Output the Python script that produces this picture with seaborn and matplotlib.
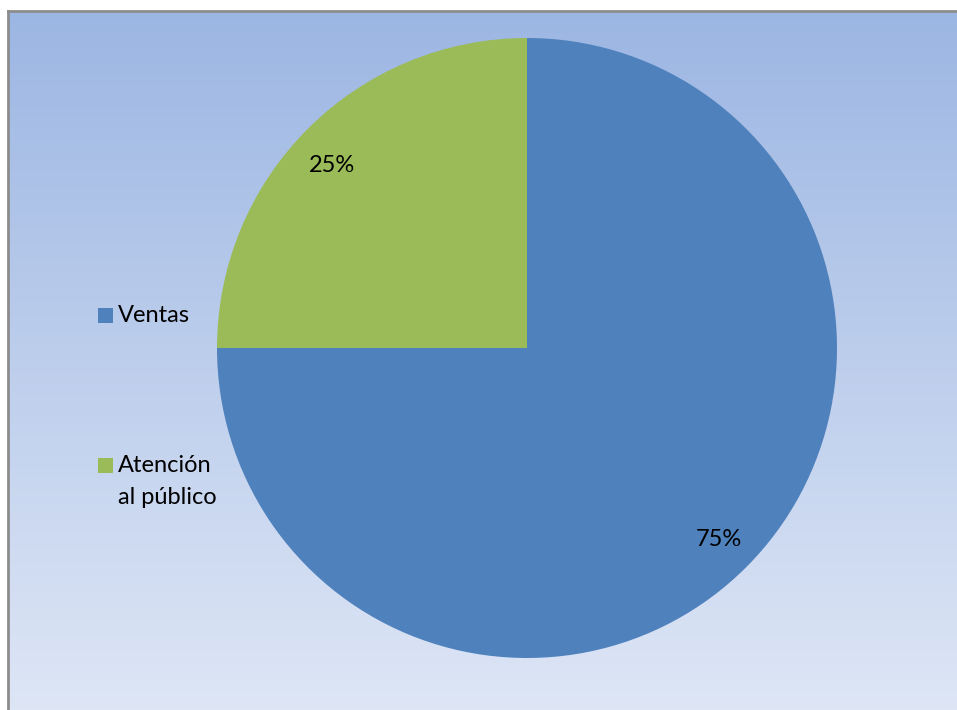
import numpy as np
import matplotlib
matplotlib.use("Agg")
import matplotlib.pyplot as plt
from matplotlib.patches import Rectangle
from matplotlib.colors import LinearSegmentedColormap
import seaborn as sns

categories = ["Ventas", "Atención\nal público"]
values = [75, 25]
colors = ["#4F81BD", "#9BBB59"]

sns.set_style("white")
plt.rcParams['font.family'] = ['Lato', 'DejaVu Sans']

W, H = 957, 710
fig = plt.figure(figsize=(W / 100, H / 100), dpi=100)
fig.patch.set_facecolor("white")

# gradient background panel
bg = fig.add_axes([8 / W, -0.02, 1 - 8 / W + 0.02, 1 - 11 / H + 0.02])
cmap = LinearSegmentedColormap.from_list("bg", ["#9CB6E3", "#DFE7F6"])
grad = np.linspace(0, 1, 256).reshape(-1, 1)
bg.imshow(grad, aspect="auto", cmap=cmap, extent=[0, 1, 0, 1], origin="upper")
bg.set_xticks([]); bg.set_yticks([])
for s in ["right", "bottom"]:
    bg.spines[s].set_visible(False)
for s in ["left", "top"]:
    bg.spines[s].set_color("#8C8C8C")
    bg.spines[s].set_linewidth(2)

# pie
cx, cy, r = 527, 348, 310
ax = fig.add_axes([(cx - r) / W, (H - cy - r) / H, 2 * r / W, 2 * r / H])
ax.set_facecolor("none")
wedges, texts, autotexts = ax.pie(values, colors=colors, startangle=90, counterclock=False,
                                  autopct="%d%%", pctdistance=0.875, radius=1,
                                  wedgeprops=dict(linewidth=0),
                                  textprops=dict(fontsize=17, color="black"))
# small nudge of the 25% label to match the reference placement
x0, y0 = autotexts[1].get_position()
autotexts[1].set_position((x0 - 0.01, y0 - 0.03))
ax.set_xlim(-1, 1); ax.set_ylim(-1, 1)
ax.set_aspect("equal")
ax.axis("off")

# legend
ys = [316, 465]
for lab, col, y in zip(categories, colors, ys):
    fig.add_artist(Rectangle((98 / W, (H - y - 7.5) / H), 15 / W, 15 / H,
                             transform=fig.transFigure, facecolor=col, edgecolor="none"))
    for i, ln in enumerate(lab.split("\n")):
        fig.text(118 / W, (H - y - 32 * i) / H, ln, fontsize=17, color="black",
                 ha="left", va="center")

fig.savefig("out.png", dpi=100)
